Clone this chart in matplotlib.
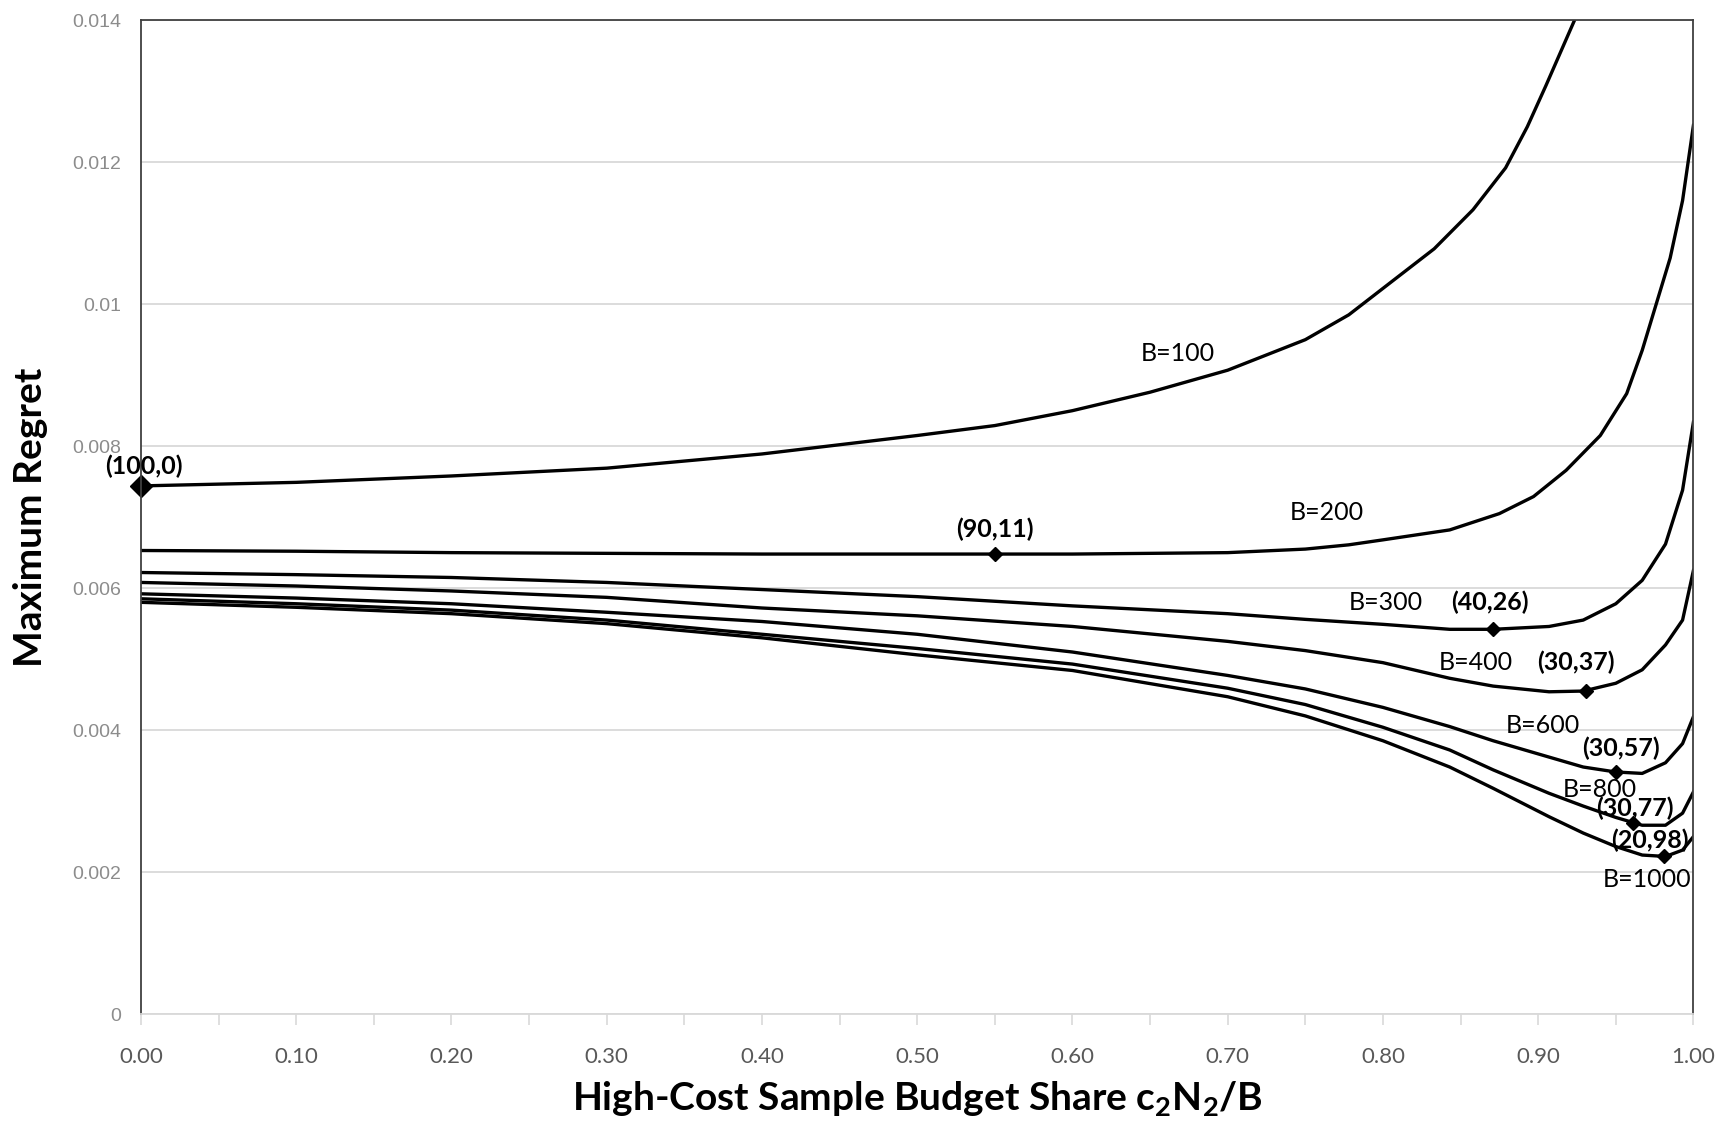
import matplotlib.pyplot as plt
import numpy as np
from matplotlib.ticker import MultipleLocator, FixedLocator

plt.rcParams['mathtext.fontset'] = 'custom'
plt.rcParams['mathtext.rm'] = 'Lato:bold'
plt.rcParams['mathtext.default'] = 'rm'

# values (x = budget share, y = max regret)
b100_x = [0.00, 0.10, 0.20, 0.30, 0.40, 0.50, 0.55, 0.60, 0.65, 0.70, 0.75, 0.778,
          0.804, 0.833, 0.858, 0.879, 0.893, 0.905, 0.915, 0.9234]
b100_y = [0.00744, 0.00749, 0.00758, 0.00769, 0.00789, 0.00815, 0.00829, 0.00850,
          0.00876, 0.00907, 0.00950, 0.00985, 0.01029, 0.01078, 0.01133, 0.01192,
          0.01250, 0.01308, 0.01358, 0.01400]

b200_x = [0.00, 0.10, 0.20, 0.30, 0.40, 0.50, 0.55, 0.60, 0.65, 0.70, 0.75, 0.778,
          0.80, 0.843, 0.875, 0.897, 0.918, 0.940, 0.957, 0.967, 0.976, 0.985,
          0.993, 1.00]
b200_y = [0.00653, 0.00652, 0.00650, 0.00649, 0.00648, 0.00648, 0.00648, 0.00648,
          0.00649, 0.00650, 0.00655, 0.00661, 0.00668, 0.00682, 0.00705, 0.00729,
          0.00766, 0.00815, 0.00874, 0.00935, 0.01000, 0.01065, 0.01146, 0.01252]

low_x = [0.00, 0.10, 0.20, 0.30, 0.40, 0.50, 0.60, 0.70, 0.75, 0.80, 0.843, 0.871,
         0.907, 0.929, 0.950, 0.967, 0.982, 0.993, 1.00]
b300_y = [0.00622, 0.00619, 0.00615, 0.00608, 0.00598, 0.00588, 0.00575, 0.00564,
          0.00556, 0.00549, 0.00542, 0.00542, 0.00546, 0.00555, 0.00578, 0.00611,
          0.00662, 0.00738, 0.00834]
b400_y = [0.00608, 0.00603, 0.00596, 0.00587, 0.00572, 0.00561, 0.00546, 0.00525,
          0.00512, 0.00495, 0.00473, 0.00462, 0.00454, 0.00455, 0.00466, 0.00485,
          0.00520, 0.00555, 0.00625]
b600_y = [0.00592, 0.00586, 0.00578, 0.00566, 0.00553, 0.00535, 0.00510, 0.00477,
          0.00458, 0.00432, 0.00405, 0.00385, 0.00362, 0.00348, 0.00341, 0.00339,
          0.00354, 0.00381, 0.00419]
b800_y = [0.00585, 0.00578, 0.00569, 0.00555, 0.00535, 0.00515, 0.00493, 0.00459,
          0.00436, 0.00404, 0.00372, 0.00344, 0.00311, 0.00293, 0.00277, 0.00266,
          0.00266, 0.00283, 0.00313]
b1000_y = [0.00580, 0.00573, 0.00564, 0.00550, 0.00530, 0.00506, 0.00484, 0.00447,
           0.00420, 0.00385, 0.00348, 0.00318, 0.00278, 0.00255, 0.00236, 0.00224,
           0.00222, 0.00231, 0.00250]

# optimum points
opt_x = [0.55, 0.871, 0.931, 0.950, 0.961, 0.981]
opt_y = [0.00648, 0.00542, 0.00455, 0.00341, 0.00269, 0.00222]
opt_labels = ["(90,11)", "(40,26)", "(30,37)", "(30,57)", "(30,77)", "(20,98)"]
opt_lab_x = [0.55, 0.869, 0.924, 0.953, 0.962, 0.972]
opt_lab_y = [0.00683, 0.00580, 0.00495, 0.00375, 0.00290, 0.00245]

curve_names = ["B=100", "B=200", "B=300", "B=400", "B=600", "B=800", "B=1000"]
name_x = [0.668, 0.764, 0.802, 0.860, 0.903, 0.940, 0.970]
name_y = [0.00930, 0.00707, 0.00580, 0.00495, 0.00406, 0.00316, 0.00189]

fig = plt.figure(figsize=(17.28, 11.23), dpi=100)
ax = fig.add_axes([0.0816, 0.097, 0.8984, 0.885])

ax.yaxis.grid(True, color='#d9d9d9', linewidth=1.3)
ax.set_axisbelow(True)

ax.plot(b100_x, b100_y, color='black', lw=2.4)
ax.plot(b200_x, b200_y, color='black', lw=2.4)
for ys in [b300_y, b400_y, b600_y, b800_y, b1000_y]:
    ax.plot(low_x, ys, color='black', lw=2.4)

ax.plot(opt_x, opt_y, 'D', color='black', ms=7, ls='none')
ax.plot([0.0], [0.00744], 'D', color='black', ms=11, clip_on=False)

for t, x, y in zip(curve_names, name_x, name_y):
    ax.text(x, y, t, fontsize=18, family='Lato', ha='center', va='center')
for t, x, y in zip(opt_labels, opt_lab_x, opt_lab_y):
    ax.text(x, y, t, fontsize=18, family='Lato', weight='bold', ha='center', va='center')
ax.text(0.002, 0.00772, "(100,0)", fontsize=18, family='Lato', weight='bold',
        ha='center', va='center')

ax.set_xlim(0, 1.0)
ax.set_ylim(0, 0.014)
ax.xaxis.set_major_locator(FixedLocator(np.arange(0, 1.01, 0.1)))
ax.xaxis.set_minor_locator(MultipleLocator(0.05))
ax.set_xticklabels(["%.2f" % v for v in np.arange(0, 1.01, 0.1)])
ax.set_yticks(np.arange(0, 0.0141, 0.002))
ax.set_yticklabels(["0", "0.002", "0.004", "0.006", "0.008", "0.01", "0.012", "0.014"])

ax.tick_params(axis='x', which='both', direction='out', length=8, width=1.2,
               color='#d9d9d9', labelcolor='#595959', labelsize=16, pad=16)
ax.tick_params(axis='y', length=0, labelcolor='#8c8c8c', labelsize=14, pad=14)
for lab in ax.get_xticklabels():
    lab.set_family('Lato')
for lab in ax.get_yticklabels():
    lab.set_family('Liberation Sans')

for s in ['left', 'right', 'top']:
    ax.spines[s].set_color('#404040')
    ax.spines[s].set_linewidth(1.3)
ax.spines['bottom'].set_color('#d9d9d9')
ax.spines['bottom'].set_linewidth(1.3)

ax.set_xlabel(r"High-Cost Sample Budget Share c$_2$N$_2$/B", fontsize=28,
              family='Lato', weight='bold', labelpad=8)
ax.set_ylabel("Maximum Regret", fontsize=28, family='Lato', weight='bold', labelpad=18)

fig.savefig("out.png", dpi=100)
